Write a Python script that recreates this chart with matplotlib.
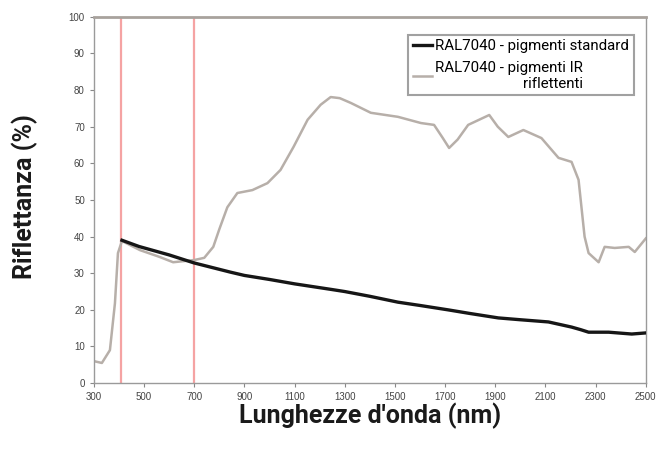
import matplotlib
matplotlib.use("Agg")
import matplotlib.pyplot as plt

# Data
std_nm = [412, 480, 600, 700, 844, 900, 1000, 1100, 1244, 1300, 1400, 1512, 1600,
          1712, 1800, 1912, 2000, 2112, 2204, 2240, 2272, 2352, 2444, 2500]
std_val = [39.0, 37.3, 35.0, 32.8, 30.3, 29.4, 28.3, 27.1, 25.6, 25.0, 23.7, 22.1, 21.2,
           20.0, 19.0, 17.8, 17.3, 16.7, 15.3, 14.6, 13.9, 13.9, 13.4, 13.7]

ir_nm = [300, 332, 364, 384, 396, 412, 484, 560, 616, 700, 740, 776, 800, 832, 872, 932,
         992, 1044, 1096, 1152, 1204, 1244, 1280, 1324, 1404, 1512, 1604, 1656, 1690,
         1716, 1750, 1792, 1876, 1910, 1952, 2012, 2084, 2152, 2204, 2232, 2256, 2272,
         2312, 2336, 2376, 2432, 2456, 2500]
ir_val = [6.0, 5.5, 9.0, 21.8, 35.5, 38.8, 36.3, 34.5, 33.0, 33.6, 34.2, 37.2, 42.0,
          48.0, 51.9, 52.7, 54.6, 58.2, 64.5, 71.9, 76.0, 78.1, 77.8, 76.5, 73.8, 72.7,
          71.0, 70.5, 67.0, 64.2, 66.5, 70.5, 73.2, 70.0, 67.2, 69.1, 66.9, 61.5, 60.4,
          55.5, 40.0, 35.5, 33.0, 37.2, 36.9, 37.2, 35.8, 39.5]

red_lines = [410, 700]
x_ticks = list(range(300, 2501, 200))
y_ticks = list(range(0, 101, 10))

label_std = "RAL7040 - pigmenti standard"
label_ir = "RAL7040 - pigmenti IR\nriflettenti"
xlabel = "Lunghezze d'onda (nm)"
ylabel = "Riflettanza (%)"

fig = plt.figure(figsize=(6.61, 4.55), dpi=100)
ax = fig.add_axes([0.142, 0.158, 0.835, 0.805])

for xv in red_lines:
    ax.axvline(xv, color="#f5a3a3", lw=1.6, zorder=1)

ax.plot(ir_nm, ir_val, color="#b7afa9", lw=1.8, label=label_ir, zorder=2)
ax.plot(std_nm, std_val, color="#161616", lw=2.4, label=label_std, zorder=3)

ax.set_xlim(300, 2500)
ax.set_ylim(0, 100)
ax.set_xticks(x_ticks)
ax.set_yticks(y_ticks)
ax.tick_params(axis="both", labelsize=7, labelcolor="#444444", color="#888888",
               length=3, width=0.8, direction="out")
for lab in ax.get_xticklabels() + ax.get_yticklabels():
    lab.set_family("Liberation Sans")

for side in ["left", "bottom", "right"]:
    ax.spines[side].set_color("#9a9a9a")
    ax.spines[side].set_linewidth(1.0)
ax.spines["top"].set_color("#a8a29d")
ax.spines["top"].set_linewidth(2.0)

handles, labels = ax.get_legend_handles_labels()
order = [1, 0]
leg = ax.legend([handles[i] for i in order], [labels[i] for i in order],
                loc="upper right", bbox_to_anchor=(0.978, 0.951),
                prop={"family": "Roboto", "size": 10.8},
                frameon=True, fancybox=False, edgecolor="#8a8a8a",
                handlelength=1.3, handletextpad=0.2, borderpad=0.3,
                labelspacing=0.5, borderaxespad=0.0)
leg.get_frame().set_linewidth(1.5)
for t in leg.get_texts():
    t.set_multialignment("right")

fig.text(0.038, 0.569, ylabel, rotation=90, ha="center", va="center",
         fontsize=18, fontweight="bold", family="Roboto", color="#1a1a1a")
fig.text(0.56, 0.086, xlabel, ha="center", va="center",
         fontsize=18, fontweight="bold", family="Roboto", color="#1a1a1a")

fig.savefig("out.png", dpi=100)
